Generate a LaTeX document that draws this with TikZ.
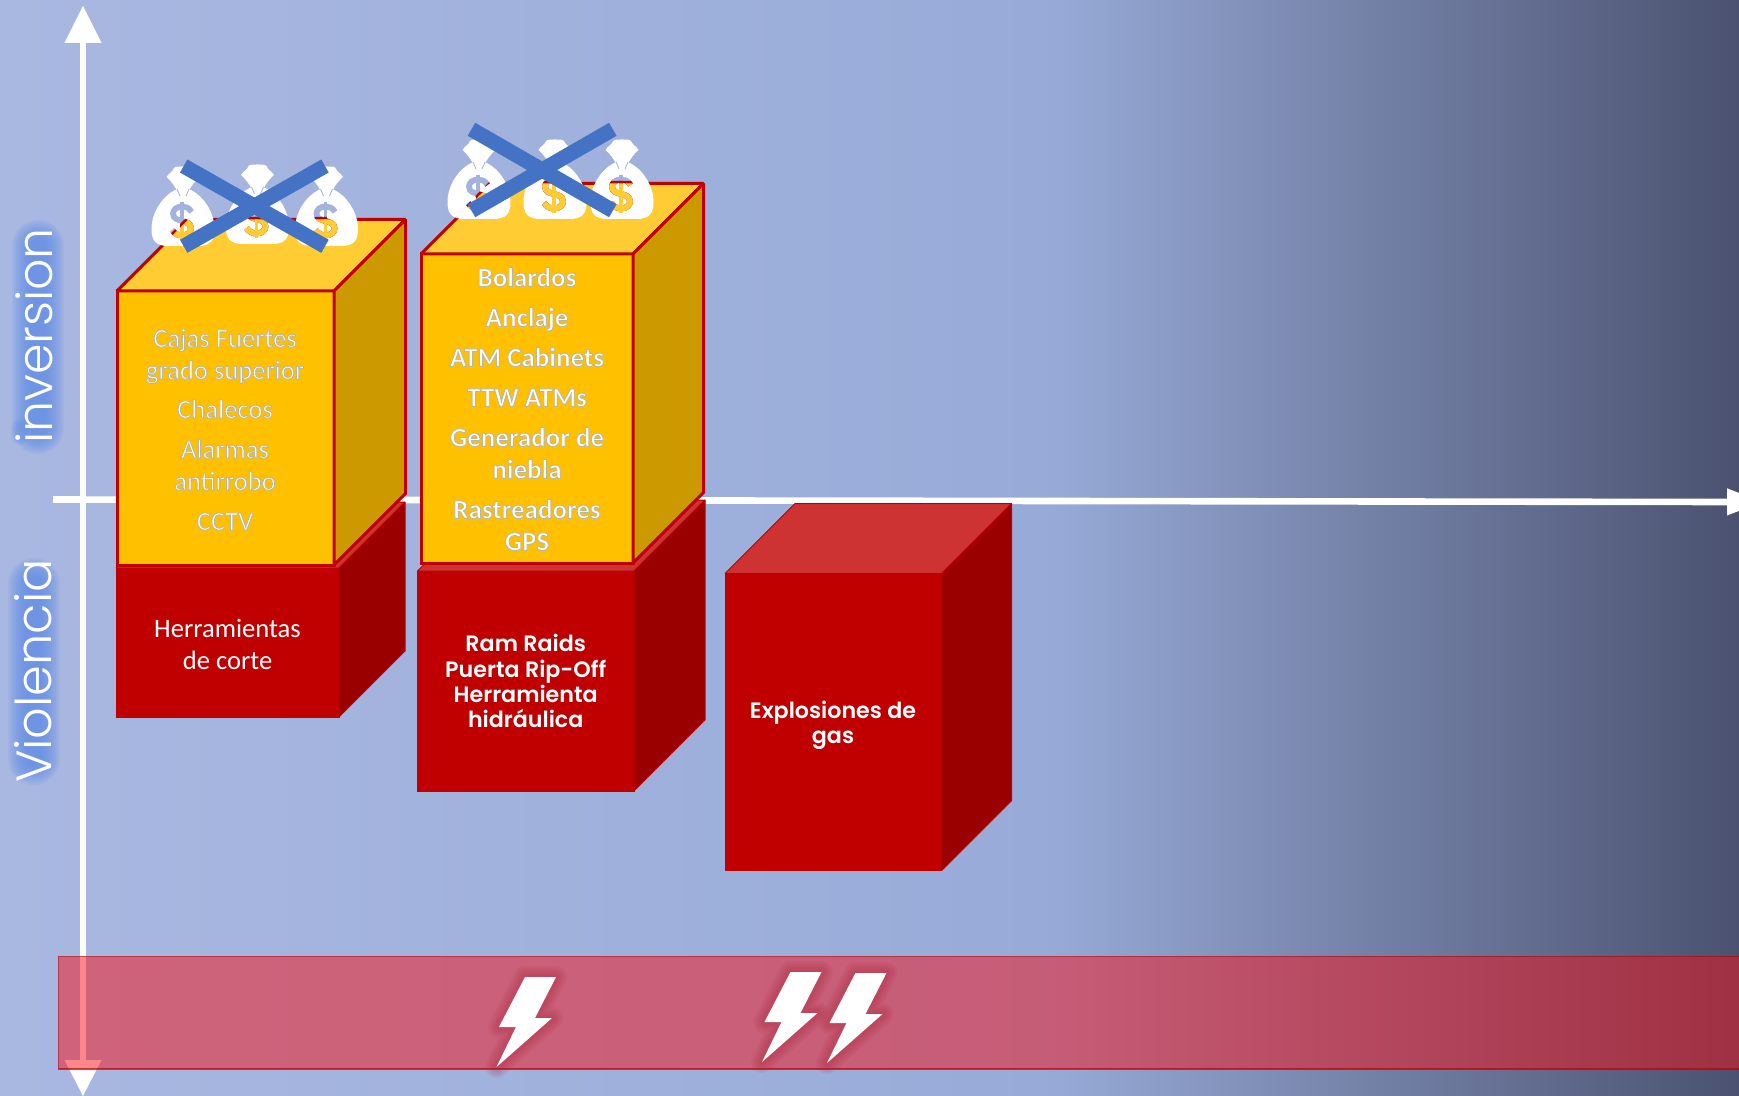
\documentclass[tikz,border=0pt]{standalone}
\usepackage{fontspec}
\setmainfont{Carlito}
\newfontfamily\popsb{Poppins SemiBold}
\newfontfamily\poplt{Poppins Light}
\usetikzlibrary{calc}
\definecolor{goldF}{HTML}{FFC000}
\definecolor{goldT}{HTML}{FFCD33}
\definecolor{goldS}{HTML}{CC9A00}
\definecolor{redF}{HTML}{C00000}
\definecolor{redT}{HTML}{CD3333}
\definecolor{redS}{HTML}{9A0000}
\definecolor{bgA}{HTML}{A9B8E1}
\definecolor{bgB}{HTML}{98ABD8}
\definecolor{bgC}{HTML}{4B5270}
\definecolor{bagbg}{HTML}{A4B3DD}
\definecolor{xblue}{HTML}{4472C4}
\definecolor{glowblue}{HTML}{5F8CEA}
\definecolor{bandred}{HTML}{F51018}
\definecolor{boltglow}{HTML}{A81E32}
\pgfdeclarehorizontalshading{bgshade}{100bp}{color(0bp)=(bgA); color(25bp)=(bgA); color(55bp)=(bgB); color(75bp)=(bgC); color(100bp)=(bgC)}
\newcommand\txton{\special{pdf:code 2 Tr 0.45 w 0.72 0.72 0.66 RG}}
\newcommand\txtoff{\special{pdf:code 0 Tr 1 w}}
\newcommand\cube[9]{%
 \filldraw[#9,fill=#6] (#1,#2) rectangle (#3,#4);
 \filldraw[#9,fill=#7] (#1,#2) -- ($(#1,#2)+(#5,-#5)$) -- ($(#3,#2)+(#5,-#5)$) -- (#3,#2) -- cycle;
 \filldraw[#9,fill=#8] (#3,#2) -- ($(#3,#2)+(#5,-#5)$) -- ($(#3,#4)+(#5,-#5)$) -- (#3,#4) -- cycle;
}
\newcommand\dollarpath[1]{%
 \draw[#1,line width=2.9pt] (9.5,-9) .. controls (7,-13.5) and (3.5,-14.5) .. (0,-14.5) .. controls (-5.5,-14.5) and (-9,-11) .. (-9,-7.5) .. controls (-9,-2) and (-3.5,-1) .. (0,0) .. controls (3.5,1) and (9,2) .. (9,7.5) .. controls (9,11) and (5.5,14.5) .. (0,14.5) .. controls (-3.5,14.5) and (-7,13) .. (-10,9);
 \draw[#1,line width=1.8pt] (0,-19) -- (0,19);
}
% #1 x, #2 bottom y, #3 face polygon, #4 face polygon with its border
\newcommand\moneybag[4]{%
 \begin{scope}[shift={(#1,#2)}]
  \fill[white] (-8,-56) .. controls (-20,-50) and (-31.5,-34) .. (-31.5,-17) .. controls (-31.5,-5) and (-27,0) .. (-14,0) -- (14,0) .. controls (27,0) and (31.5,-5) .. (31.5,-17) .. controls (31.5,-34) and (20,-50) .. (8,-56) -- cycle;
  \fill[white] (-6,-55) .. controls (-8,-60) and (-12,-65) .. (-16.5,-69) .. controls (-14,-73) and (-11,-74) .. (-10,-76) .. controls (-9,-79.5) and (-7,-79.5) .. (0,-79.5) .. controls (7,-79.5) and (9,-79.5) .. (10,-76) .. controls (11,-74) and (14,-73) .. (16.5,-69) .. controls (12,-65) and (8,-60) .. (6,-55) -- cycle;
  \draw[bagbg,line width=.4pt] (-6,-57) -- (-3,-50) (6,-57) -- (3,-50);
  \begin{scope}[shift={(-1,-25)}]\dollarpath{bagbg}\end{scope}
 \end{scope}
 \begin{scope}\clip #4;
  \begin{scope}[shift={(#1-1,#2-25)}]\dollarpath{redF}\end{scope}
 \end{scope}
 \begin{scope}\clip #3;
  \begin{scope}[shift={(#1-1,#2-25)}]\dollarpath{goldT}\end{scope}
 \end{scope}
}
\newcommand\glowpath[2]{%
 \foreach \w in {22,18,14,10,6}{\draw[#1,line width=\w*.5pt,line join=round,opacity=.075] #2;}
}
\newcommand\boltshape{(0,0) -- (31,0) -- (10,41) -- (27,41) -- (-28.5,90) -- (-9,50) -- (-26,50) -- cycle}
\tikzset{
 x=.5pt,y=-.5pt,
 goldedge/.style={draw=redF,line width=1.5pt,line join=miter,miter limit=1.5},
 rededge/.style={draw=redF,line width=.5pt,line join=miter,miter limit=1.5},
 axisline/.style={draw=white,line width=3.3pt},
 axishead/.style={fill=white},
 xstroke/.style={draw=xblue,line width=7.5pt},
 sidelabel/.style={text=white,rotate=90,anchor=base,inner sep=0pt},
 glowbar/.style={draw=glowblue,line cap=round,opacity=.13},
 goldtext/.style={text=white,align=center,inner sep=0pt,font=\fontsize{13.3}{16}\selectfont},
 goldbold/.style={text=white,align=center,inner sep=0pt,font=\bfseries\fontsize{13.5}{16}\selectfont},
 redtext/.style={text=white,align=center,inner sep=0pt,font=\fontsize{13.3}{16}\selectfont},
 redbold/.style={text=white,align=center,inner sep=0pt,font=\popsb\fontsize{11.1}{12.6}\selectfont},
}
\begin{document}
\begin{tikzpicture}
\path[use as bounding box,clip] (0,0) rectangle (1739,1096);
\shade[shading=bgshade] (0,0) rectangle (1739,1096);
% axes
\coordinate (vT) at (83,43); \coordinate (vB) at (83,1060);
\coordinate (hL) at (53,499.5); \coordinate (hR) at (1727,502);
\draw[axisline] (vT) -- (vB);
\draw[axisline] (hL) -- (hR);
\fill[axishead] (83,6) -- (101.5,43) -- (64.5,43) -- cycle;
\fill[axishead] (83,1096) -- (101.5,1060) -- (64.5,1060) -- cycle;
\fill[axishead] (1762,502) -- (1727,488.3) -- (1727,515.5) -- cycle;
% side labels
\foreach \w in {52,48,44,40,36,32,28,24,20,16}{
 \draw[glowbar,line width=\w*.5pt] (38,246) -- (38,428);
 \draw[glowbar,line width=\w*.5pt] (33.5,584) -- (33.5,759);
}
\foreach \w in {18,14,10}{\draw[glowbar,line width=\w*.5pt] (20,428) -- (20,436);}
\node[sidelabel,font=\poplt\fontsize{24.5}{24}\selectfont] (inv) at (52,336) {inversion};
\node[sidelabel,font=\poplt\fontsize{24.7}{24}\selectfont] (vio) at (51,671) {Violencia};
% red cubes
\cube{116}{568}{339}{717}{66}{redF}{redT}{redS}{rededge}
\cube{417.5}{571}{634}{791}{71}{redF}{redT}{redS}{rededge}
\cube{725}{573.5}{941.6}{870.6}{70}{redF}{redT}{redS}{rededge}
% gold cubes
\cube{117}{291}{334}{565}{71.5}{goldF}{goldT}{goldS}{goldedge}
\cube{421}{254}{633}{563}{70.5}{goldF}{goldT}{goldS}{goldedge}
% texts
\node[goldtext] (t1) at (225,429.5) {\txton Cajas Fuertes\\grado superior\\[3.5pt]Chalecos\\[4pt]Alarmas\\antirrobo\\[4pt]CCTV\txtoff};
\node[goldbold] (t2) at (527,409) {\txton Bolardos\\[4pt]Anclaje\\[4pt]ATM Cabinets\\[4pt]TTW ATMs\\[4pt]Generador de\\niebla\\[4pt]Rastreadores\\GPS\txtoff};
\node[redtext] (t3) at (227.5,644) {Herramientas\\de corte};
\node[redbold] (t4) at (525.7,681) {Ram Raids\\Puerta Rip-Off\\Herramienta\\hidráulica};
\node[redbold] (t5) at (833,725) {Explosiones de\\gas};
% money bags
\def\faceA{(117,291) -- (334,291) -- (405.5,219.5) -- (188.5,219.5) -- cycle}
\def\faceAo{(113,293) -- (336,293) -- (408,217) -- (187,217) -- cycle}
\def\faceB{(421,254) -- (633,254) -- (703.5,183.5) -- (491.5,183.5) -- cycle}
\def\faceBo{(417,256) -- (635,256) -- (706,181) -- (490,181) -- cycle}
\moneybag{183}{246}{\faceA}{\faceAo}
\moneybag{257.5}{244}{\faceA}{\faceAo}
\moneybag{326.5}{246}{\faceA}{\faceAo}
\moneybag{479}{219}{\faceB}{\faceBo}
\moneybag{555}{219}{\faceB}{\faceBo}
\moneybag{622}{219}{\faceB}{\faceBo}
% crosses
\coordinate (a1) at (183.7,166); \coordinate (a2) at (325,246.3);
\coordinate (a3) at (325,166); \coordinate (a4) at (183.7,246.3);
\coordinate (b1) at (471.5,129.3); \coordinate (b2) at (612.8,210.7);
\coordinate (b3) at (612.8,129.3); \coordinate (b4) at (471.5,210.7);
\draw[xstroke] (a1) -- (a2);
\draw[xstroke] (a3) -- (a4);
\draw[xstroke] (b1) -- (b2);
\draw[xstroke] (b3) -- (b4);
% band
\filldraw[fill=bandred,fill opacity=.5,draw=red!75!black,draw opacity=.7,line width=.6pt] (58.7,956.7) rectangle (1765,1069);
% bolts
\foreach \x/\y in {525/977,790.5/972,855.5/973}{
 \begin{scope}[shift={(\x,\y)}]
  \glowpath{boltglow}{\boltshape}
  \fill[white] \boltshape;
 \end{scope}
}
\end{tikzpicture}
\end{document}
